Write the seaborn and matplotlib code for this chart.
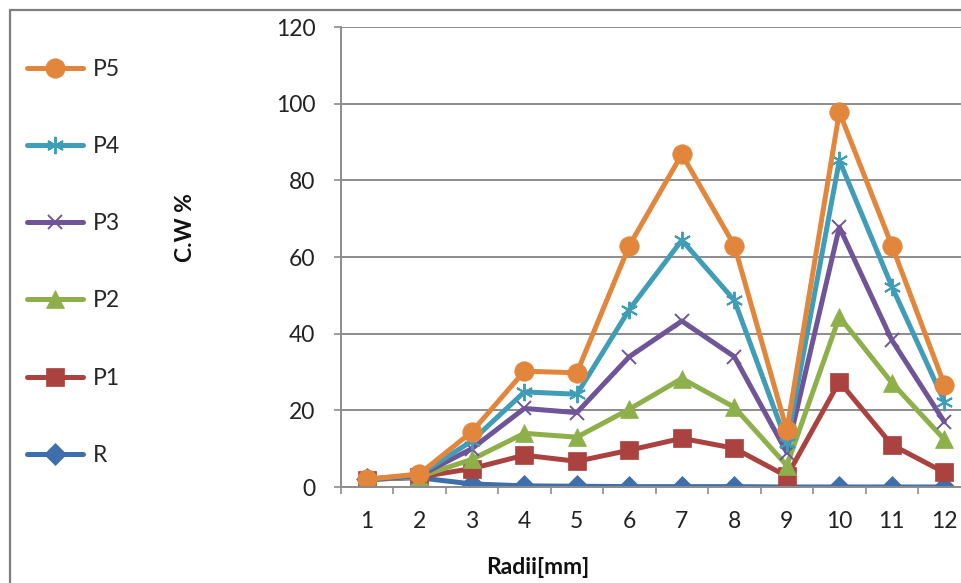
import matplotlib
matplotlib.use("Agg")
import matplotlib.pyplot as plt
from matplotlib.lines import Line2D
import seaborn as sns
import pandas as pd
import numpy as np

# ---- data ----
radii = [1, 2, 3, 4, 5, 6, 7, 8, 9, 10, 11, 12]
R  = [2.2, 2.4, 0.8, 0.3, 0.2, 0.1, 0.1, 0.1, 0.0, 0.0, 0.0, 0.0]
P1 = [1.9, 2.6, 4.8, 8.3, 6.7, 9.6, 12.7, 10.1, 2.8, 27.5, 11.0, 3.8]
P2 = [1.9, 2.7, 7.2, 14.0, 13.0, 20.3, 28.3, 20.8, 5.6, 44.4, 27.2, 12.4]
P3 = [1.9, 2.9, 10.0, 20.5, 19.4, 34.0, 43.3, 34.0, 9.0, 67.8, 38.3, 17.0]
P4 = [2.0, 3.2, 12.0, 24.8, 24.2, 46.3, 64.4, 48.7, 11.5, 85.2, 52.3, 22.3]
P5 = [2.0, 3.4, 14.4, 30.2, 29.8, 63.0, 86.8, 63.0, 14.8, 97.8, 63.0, 26.7]
series_names = ["R", "P1", "P2", "P3", "P4", "P5"]
yticks = [0, 20, 40, 60, 80, 100, 120]
x_label = "Radii[mm]"
y_label = "C.W %"

df = pd.DataFrame({"Radii": radii, "R": R, "P1": P1, "P2": P2,
                   "P3": P3, "P4": P4, "P5": P5})
long = df.melt(id_vars="Radii", var_name="series", value_name="cw")

sns.set_theme(style="white")
plt.rcParams["font.family"] = ["Lato", "DejaVu Sans"]

W, H = 962, 583
fig = plt.figure(figsize=(W / 100, H / 100), dpi=100)
fig.patch.set_facecolor("white")

ax_left, ax_right = 340.6, 970.6
ax_top, ax_bot = 27.0, 487.0
ax = fig.add_axes([ax_left / W, 1 - ax_bot / H,
                   (ax_right - ax_left) / W, (ax_bot - ax_top) / H])

colors = {"R": "#3E6FAC", "P1": "#AA4240", "P2": "#8DB04B",
          "P3": "#6F5597", "P4": "#3F9DB7", "P5": "#E2863C"}
styles = {
    "R":  dict(marker="D", markersize=11.5, markeredgewidth=0.5),
    "P1": dict(marker="s", markersize=13, markeredgewidth=0.5),
    "P2": dict(marker="^", markersize=13.5, markeredgewidth=0.5),
    "P3": dict(marker="x", markersize=10.5, markeredgewidth=1.4),
    "P4": dict(marker=(6, 2, 0), markersize=12.5, markeredgewidth=1.4),
    "P5": dict(marker="o", markersize=14, markeredgewidth=0.5),
}
LW = 3.6

for name in series_names:
    sub = long[long["series"] == name]
    sns.lineplot(data=sub, x="Radii", y="cw", ax=ax, color=colors[name],
                 linewidth=LW, markeredgecolor=colors[name],
                 solid_joinstyle="round", solid_capstyle="round",
                 legend=False, **styles[name])

gray = "#8C8C8C"
txt = "#222222"
ax.set_xlim(0.5, 12.5)
ax.set_ylim(0, 120)
ax.set_yticks(yticks)
ax.set_yticklabels([str(v) for v in yticks])
ax.set_xticks(radii)
ax.set_xticklabels([str(v) for v in radii])
ax.set_xticks(np.arange(0.5, 12.6, 1.0), minor=True)
ax.grid(False)
ax.yaxis.grid(True, color=gray, linewidth=1.4)
ax.set_axisbelow(True)
for s in ["top", "right"]:
    ax.spines[s].set_visible(False)
for s in ["left", "bottom"]:
    ax.spines[s].set_color(gray)
    ax.spines[s].set_linewidth(1.4)
ax.tick_params(axis="y", which="major", direction="out", length=5, width=1.2,
               color=gray, pad=13, labelsize=16.5, labelcolor=txt, left=True)
ax.tick_params(axis="x", which="major", length=0, pad=17, labelsize=16.5,
               labelcolor=txt, bottom=True)
ax.tick_params(axis="x", which="minor", direction="out", length=5, width=1.2,
               color=gray, bottom=True)
ax.set_xlabel("")
ax.set_ylabel("")

fig.text(186 / W, 1 - 228 / H, y_label, rotation=90, ha="center", va="center",
         fontsize=16.5, fontweight="bold", color="#111111")
fig.text(538 / W, 1 - 568 / H, x_label, ha="center", va="center",
         fontsize=16.5, fontweight="bold", color="#111111")

# legend (top to bottom: P5 ... R)
handles, labels = [], []
for name in reversed(series_names):
    st = dict(styles[name])
    handles.append(Line2D([], [], color=colors[name], linewidth=LW,
                          solid_capstyle="round", markeredgecolor=colors[name],
                          **st))
    labels.append(name)
fig.legend(handles, labels, loc="upper left",
           bbox_to_anchor=(27 / W, 1 - 59 / H), frameon=False,
           fontsize=16.5, handlelength=2.45, handletextpad=0.42,
           labelspacing=2.45, borderaxespad=0, borderpad=0)

# chart frame border (top and left)
fig.add_artist(Line2D([9.5 / W, 9.5 / W], [0, 1 - 9.5 / H],
                      transform=fig.transFigure, color="#7F7F7F", linewidth=1.6))
fig.add_artist(Line2D([9.5 / W, 1], [1 - 9.5 / H, 1 - 9.5 / H],
                      transform=fig.transFigure, color="#7F7F7F", linewidth=1.6))

fig.savefig("out.png", dpi=100, facecolor="white")
